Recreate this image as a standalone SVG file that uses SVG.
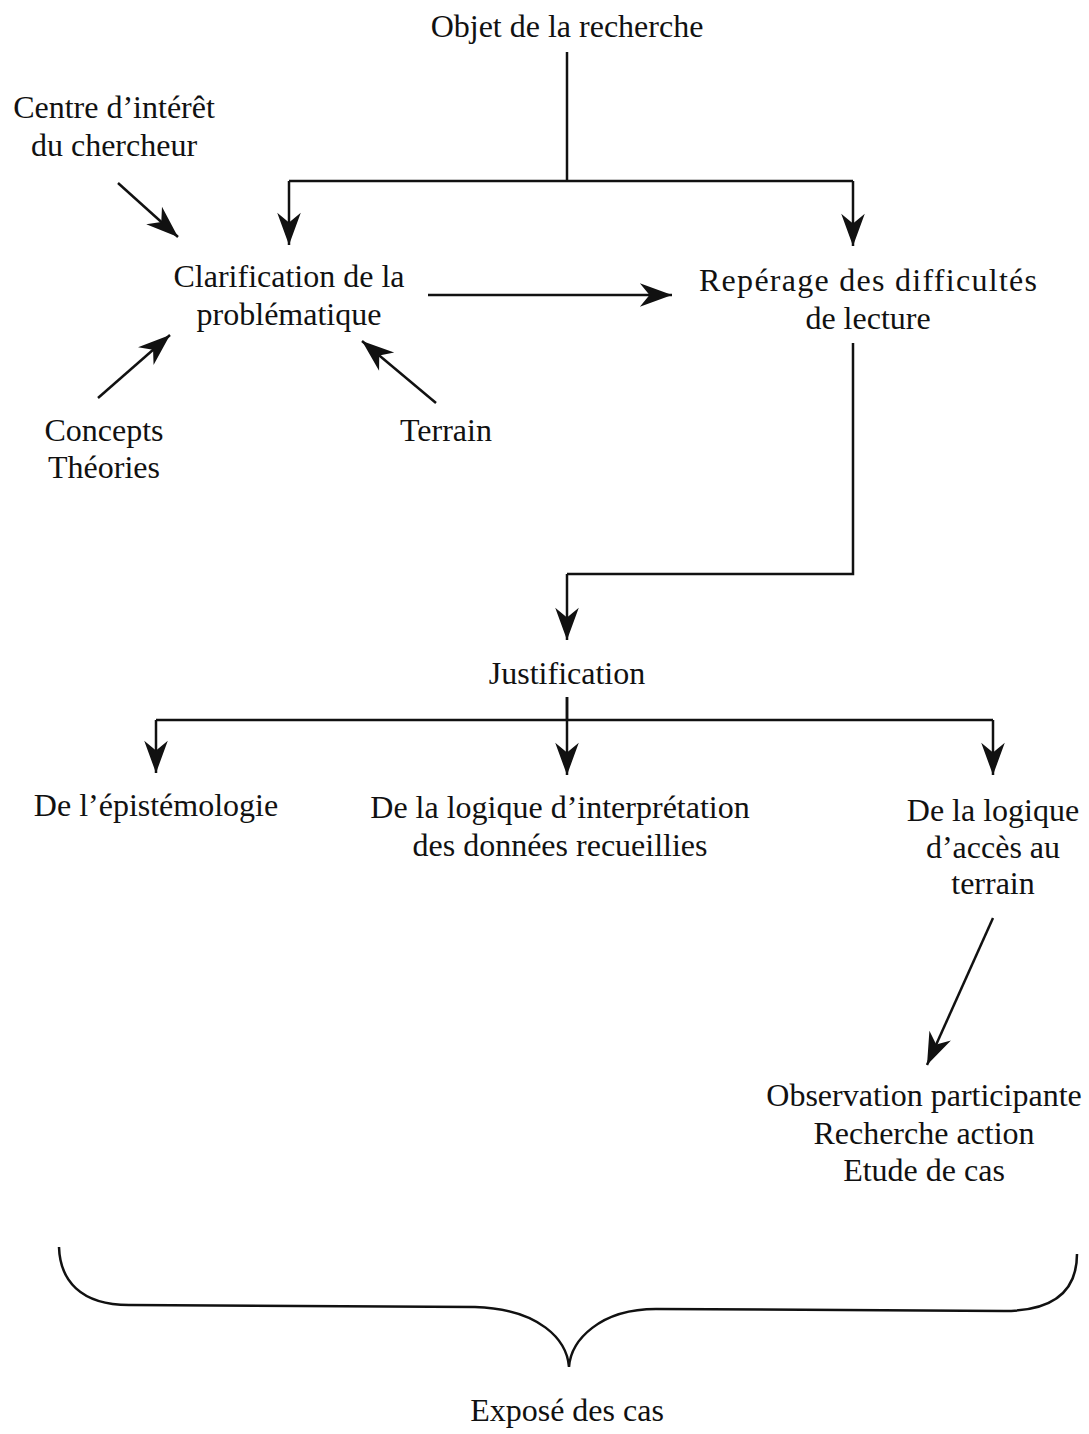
<svg xmlns="http://www.w3.org/2000/svg" width="1089" height="1434" viewBox="0 0 1089 1434">
  <style>
    text { font-family: "Liberation Serif", "Times New Roman", serif; font-size: 32px; fill: #111; text-anchor: middle; }
    .ln { fill: none; stroke: #111; stroke-width: 2.5; }
    .ar { fill: none; stroke: #111; stroke-width: 2.5; marker-end: url(#head); }
  </style>
  <defs>
    <marker id="head" markerUnits="userSpaceOnUse" markerWidth="40" markerHeight="30" viewBox="-32 -14 34 28" refX="0" refY="0" orient="auto">
      <path d="M0,0 L-30,-11 L-21,0 L-30,11 Z" fill="#111"/>
    </marker>
  </defs>
  <rect width="1089" height="1434" fill="#fff"/>

  <g id="connectors">
    <!-- object splits to both branches -->
    <path class="ln" d="M567,52 V181"/>
    <path class="ln" d="M289,181 H853"/>
    <path class="ar" d="M289,181 V245"/>
    <path class="ar" d="M853,181 V246"/>
    <!-- inputs to the problem statement -->
    <path class="ar" d="M118,183 L178,237"/>
    <path class="ar" d="M98,398 L170,335"/>
    <path class="ar" d="M436,403 L362,341"/>
    <path class="ar" d="M428,295 H672"/>
    <!-- down to justification -->
    <path class="ln" d="M853,343 V574 H567"/>
    <path class="ar" d="M567,574 V640"/>
    <!-- justification fan-out -->
    <path class="ln" d="M567,697 V720"/>
    <path class="ln" d="M156,720 H993"/>
    <path class="ar" d="M567,697 V775"/>
    <path class="ar" d="M156,720 V773"/>
    <path class="ar" d="M993,720 V775"/>
    <path class="ar" d="M993,918 L927,1065"/>
    <!-- brace gathering the cases -->
    <path class="ln" d="M59,1247 C60,1280 80,1305 129,1305 L475,1307 C540,1309 567,1340 569,1367 C571,1340 600,1309 656,1309 L1004,1311 C1055,1311 1077,1290 1077,1254"/>
  </g>

  <g id="objet"><text x="567" y="37">Objet de la recherche</text></g>
  <g id="centre-interet">
    <text x="114" y="118">Centre d’intérêt</text>
    <text x="114" y="156">du chercheur</text>
  </g>
  <g id="clarification">
    <text x="289" y="287">Clarification de la</text>
    <text x="289" y="325">problématique</text>
  </g>
  <g id="reperage">
    <text x="868" y="291" textLength="338" lengthAdjust="spacing">Repérage des difficultés</text>
    <text x="868" y="329">de lecture</text>
  </g>
  <g id="concepts">
    <text x="104" y="441">Concepts</text>
    <text x="104" y="478">Théories</text>
  </g>
  <g id="terrain"><text x="446" y="441">Terrain</text></g>
  <g id="justification"><text x="567" y="684">Justification</text></g>
  <g id="epistemologie"><text x="156" y="816">De l’épistémologie</text></g>
  <g id="interpretation">
    <text x="560" y="818">De la logique d’interprétation</text>
    <text x="560" y="856">des données recueillies</text>
  </g>
  <g id="acces">
    <text x="993" y="821">De la logique</text>
    <text x="993" y="858">d’accès au</text>
    <text x="993" y="894">terrain</text>
  </g>
  <g id="methodes">
    <text x="924" y="1106">Observation participante</text>
    <text x="924" y="1144">Recherche action</text>
    <text x="924" y="1181">Etude de cas</text>
  </g>
  <g id="expose"><text x="567" y="1421">Exposé des cas</text></g>
</svg>
